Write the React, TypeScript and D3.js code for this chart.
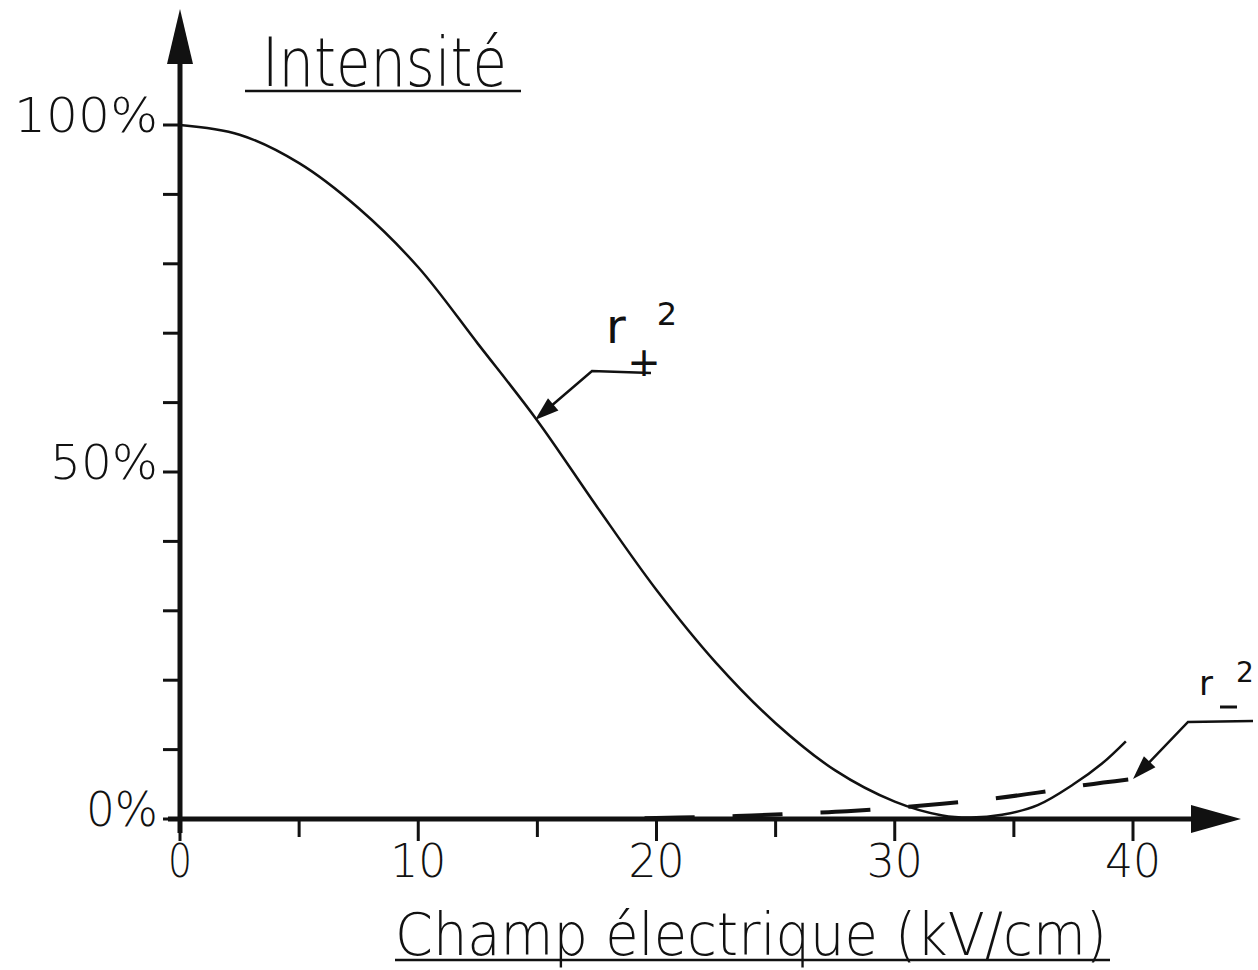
import React from "react";
import * as d3 from "d3";

// ---- data ----
const xMajorTicks = [0, 10, 20, 30, 40];
const xMinorTicks = [5, 15, 25, 35];
const yTicks = [0, 10, 20, 30, 40, 50, 60, 70, 80, 90, 100];
const yLabelTicks = [0, 50, 100];
const yLabels = ["0%", "50%", "100%"];

// r+^2 (solid)
const rPlusX = [0, 2.5, 5, 7.5, 10, 12.5, 15, 17.5, 20, 22.5, 25, 27.5, 30, 32, 33.2, 34.5, 36, 37.5, 38.7, 39.7];
const rPlusY = [100, 98.6, 94.5, 88, 79.5, 68.5, 57.4, 45, 33, 22.5, 13.8, 7, 2.5, 0.5, 0.2, 0.6, 2, 5, 8, 11.2];

// r-^2 (dashed)
const rMinusX = [19.5, 22, 24, 26, 28, 30, 32, 34, 36, 38, 39.8];
const rMinusY = [0.1, 0.3, 0.5, 0.8, 1.1, 1.6, 2.2, 2.9, 3.8, 4.9, 5.7];

const FONT = "'DejaVu Sans', sans-serif";

export default function App() {
  const W = 1258, H = 970;
  const x = d3.scaleLinear().domain([0, 40]).range([180, 1133]);
  const y = d3.scaleLinear().domain([0, 100]).range([819, 125]);
  const x0 = x(0), y0 = y(0);

  const line = d3.line<[number, number]>().x(d => x(d[0])).y(d => y(d[1])).curve(d3.curveCatmullRom.alpha(0.5));
  const plusPath = line(rPlusX.map((v, i) => [v, rPlusY[i]]) as [number, number][]) || "";
  const minusPath = line(rMinusX.map((v, i) => [v, rMinusY[i]]) as [number, number][]) || "";

  const arrowHead = (tx: number, ty: number, fx: number, fy: number, len = 24, hw = 8) => {
    const a = Math.atan2(ty - fy, tx - fx);
    const bx = tx - len * Math.cos(a), by = ty - len * Math.sin(a);
    const px = -Math.sin(a) * hw, py = Math.cos(a) * hw;
    return `M${tx},${ty}L${bx + px},${by + py}L${bx - px},${by - py}Z`;
  };

  // leader for r+
  const lp = { tip: [535, 420], knee: [592, 371], end: [651, 373] };
  // leader for r-
  const lm = { tip: [1133, 779], knee: [1188, 722], end: [1253, 721] };

  return (
    <svg width={W} height={H} style={{ display: "block", position: "absolute", left: 0, top: 0, background: "#fff" }}>
      <rect x={0} y={0} width={W} height={H} fill="#fff" />
      {/* y axis */}
      <line x1={x0} y1={833} x2={x0} y2={60} stroke="#111" strokeWidth={5} />
      <path d={`M${x0},9L${x0 - 13},64L${x0 + 13},64Z`} fill="#111" />
      {/* x axis */}
      <line x1={168} y1={y0} x2={1195} y2={y0} stroke="#111" strokeWidth={5} />
      <path d={`M1241,${y0}L1191,${y0 - 14}L1191,${y0 + 14}Z`} fill="#111" />

      {/* y ticks */}
      {yTicks.map(t => (
        <line key={"yt" + t} x1={x0 - 17} x2={x0} y1={y(t)} y2={y(t)} stroke="#111" strokeWidth={3} />
      ))}
      {/* x ticks */}
      {xMajorTicks.map(t => (
        <line key={"xM" + t} x1={x(t)} x2={x(t)} y1={y0} y2={y0 + 22} stroke="#111" strokeWidth={3} />
      ))}
      {xMinorTicks.map(t => (
        <line key={"xm" + t} x1={x(t)} x2={x(t)} y1={y0} y2={y0 + 18} stroke="#111" strokeWidth={3} />
      ))}

      {/* tick labels */}
      {xMajorTicks.map(t => {
        const s = String(t);
        return (
          <text key={"xl" + t} x={x(t)} y={877} textAnchor="middle" fontFamily={FONT} fontWeight={200}
            fontSize={47} textLength={s.length * 24 + (s.length - 1) * 8} lengthAdjust="spacingAndGlyphs" fill="#111">{s}</text>
        );
      })}
      {yLabelTicks.map((t, i) => {
        const s = yLabels[i];
        return (
          <text key={"yl" + t} x={158} y={y(t) + 7} textAnchor="end" fontFamily={FONT} fontWeight={200}
            fontSize={48} textLength={s.length * 36} lengthAdjust="spacingAndGlyphs" fill="#111">{s}</text>
        );
      })}

      {/* curves */}
      <path d={plusPath} fill="none" stroke="#111" strokeWidth={2.5} />
      <path d={minusPath} fill="none" stroke="#111" strokeWidth={4} strokeDasharray="50 38" />

      {/* title */}
      <text x={262} y={86} fontFamily={FONT} fontWeight={200} fontSize={68} textLength={245}
        lengthAdjust="spacingAndGlyphs" fill="#111">Intensité</text>
      <line x1={245} x2={521} y1={91} y2={91} stroke="#111" strokeWidth={2.5} />

      {/* x title */}
      <text x={395} y={955} fontFamily={FONT} fontWeight={200} fontSize={58} textLength={712}
        lengthAdjust="spacingAndGlyphs" fill="#111">Champ électrique (kV/cm)</text>
      <line x1={395} x2={1110} y1={960} y2={960} stroke="#111" strokeWidth={2.5} />

      {/* r+^2 label */}
      <text x={606} y={343} fontFamily={FONT} fontWeight={400} fontSize={48} fill="#111">r</text>
      <text x={644} y={376} textAnchor="middle" fontFamily={FONT} fontWeight={400} fontSize={40} fill="#111">+</text>
      <text x={667} y={325} textAnchor="middle" fontFamily={FONT} fontWeight={400} fontSize={32} fill="#111">2</text>
      <polyline points={`${lp.end[0]},${lp.end[1]} ${lp.knee[0]},${lp.knee[1]} ${lp.tip[0] + 8},${lp.tip[1] - 7}`}
        fill="none" stroke="#111" strokeWidth={2.5} />
      <path d={arrowHead(lp.tip[0], lp.tip[1], lp.knee[0], lp.knee[1])} fill="#111" />

      {/* r-^2 label */}
      <text x={1199} y={695} fontFamily={FONT} fontWeight={400} fontSize={34} fill="#111">r</text>
      <line x1={1220} x2={1237} y1={707} y2={707} stroke="#111" strokeWidth={3} />
      <text x={1245} y={682} textAnchor="middle" fontFamily={FONT} fontWeight={400} fontSize={28} fill="#111">2</text>
      <polyline points={`${lm.end[0]},${lm.end[1]} ${lm.knee[0]},${lm.knee[1]} ${lm.tip[0] + 7},${lm.tip[1] - 7}`}
        fill="none" stroke="#111" strokeWidth={2.5} />
      <path d={arrowHead(lm.tip[0], lm.tip[1], lm.knee[0], lm.knee[1])} fill="#111" />
    </svg>
  );
}
